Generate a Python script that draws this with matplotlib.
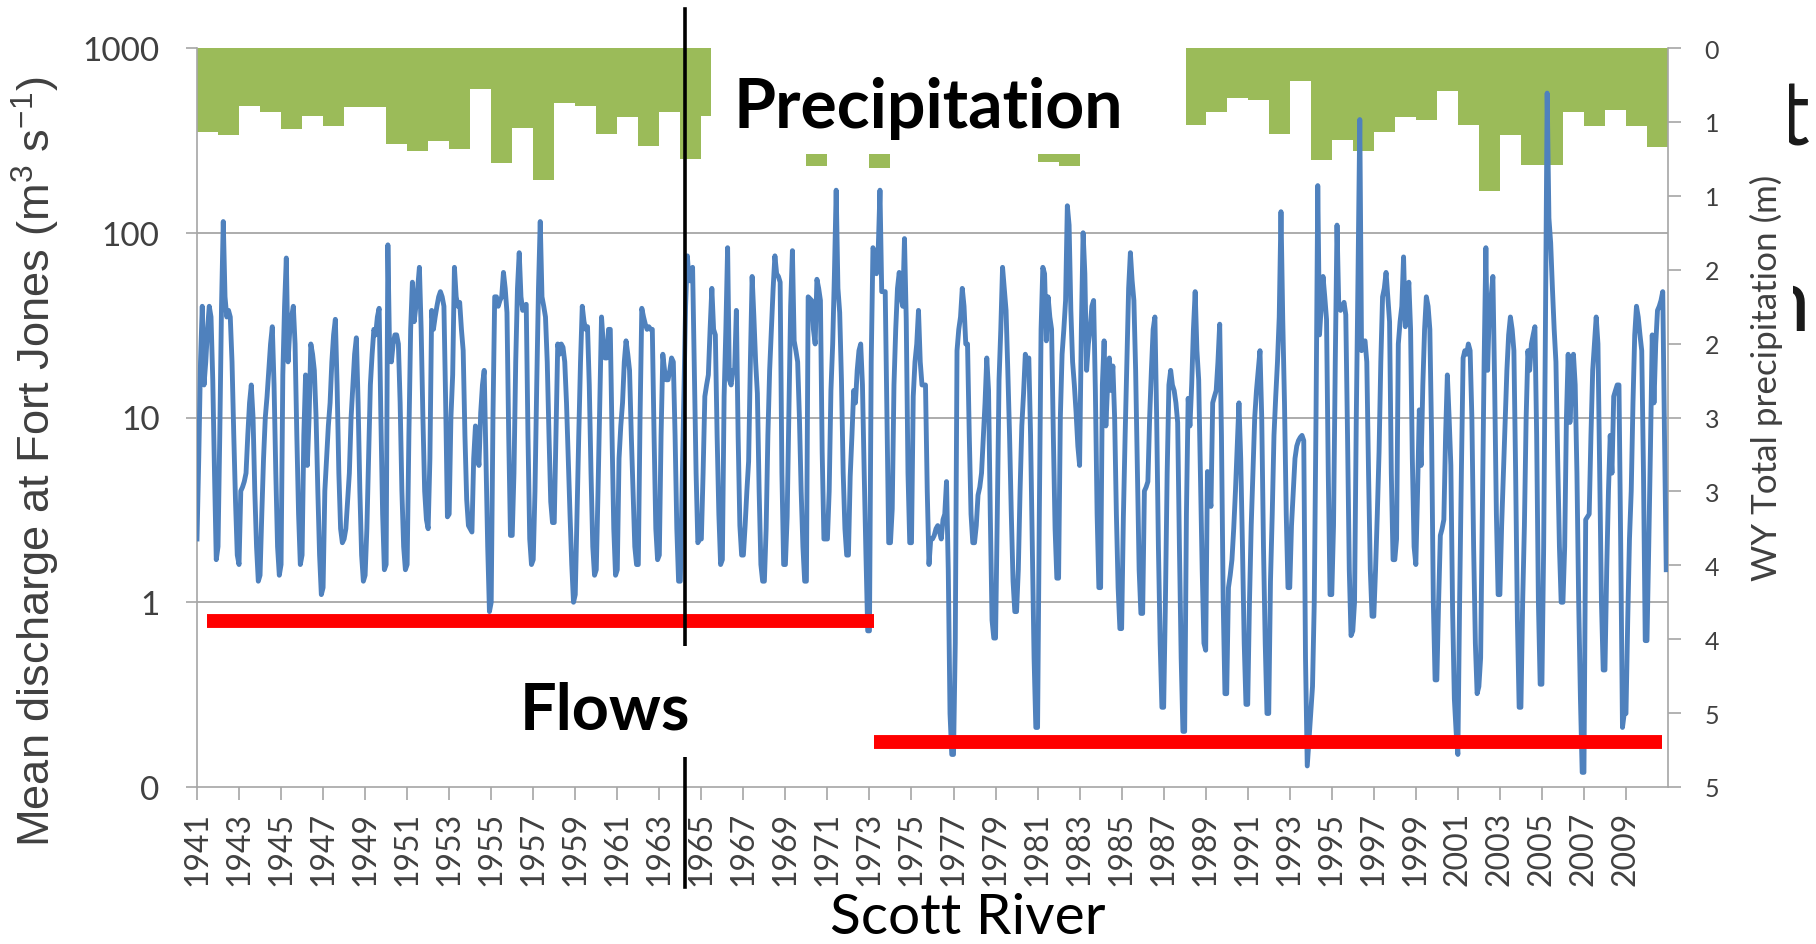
import numpy as np
import matplotlib
matplotlib.use("Agg")
import matplotlib.pyplot as plt
from matplotlib.patches import Rectangle
from matplotlib.transforms import Bbox
from matplotlib.ticker import FixedLocator, FixedFormatter, NullLocator

plt.rcParams['font.family'] = ['Lato', 'DejaVu Sans']
plt.rcParams['mathtext.fontset'] = 'custom'
plt.rcParams['mathtext.rm'] = 'Liberation Sans'
plt.rcParams['mathtext.it'] = 'Liberation Sans:italic'
plt.rcParams['mathtext.bf'] = 'Liberation Sans:bold'

# ---------------- data ----------------
years = list(range(1941, 2011))          # one block per year, 12 monthly values each (Oct..Sep)

flow_1941_1950 = [
    2.2, 6, 20, 40, 15, 20, 30, 40, 35, 16, 5, 1.7,
    2.0, 8, 40, 115, 45, 35, 38, 35, 20, 8, 3.5, 1.8,
    1.6, 4, 4.2, 4.5, 5, 8, 12, 15, 10, 4, 2, 1.3,
    1.4, 3, 6, 10, 13, 18, 25, 31, 15, 5, 2, 1.4,
    1.6, 17, 40, 73, 20, 30, 35, 40, 25, 8, 3, 1.6,
    1.8, 8, 17, 5.5, 10, 25, 22, 18, 10, 4, 1.8, 1.1,
    1.2, 4, 6, 9, 12, 20, 28, 34, 15, 5, 2.5, 2.1,
    2.2, 2.5, 3.5, 5, 10, 15, 22, 27, 12, 4, 1.8, 1.3,
    1.4, 2.5, 6, 15, 22, 30, 28, 35, 39, 10, 3, 1.5,
    1.6, 86, 22, 20, 25, 28, 28, 25, 12, 4, 2, 1.5,
]
flow_1951_1960 = [
    1.6, 8, 30, 54, 33, 40, 50, 65, 30, 10, 4, 2.8,
    2.5, 6, 38, 30, 35, 40, 45, 48, 45, 40, 12, 2.9,
    3.0, 10, 17, 65, 45, 40, 42, 30, 23, 8, 3.6, 2.6,
    2.5, 2.4, 6, 9, 7, 5.5, 10.6, 15, 18, 6, 2, 0.89,
    1.0, 10, 45, 45, 40, 43, 45, 61, 50, 37, 8, 2.3,
    2.3, 5, 20, 50, 78, 45, 38, 40, 41, 8, 2.2, 1.6,
    1.7, 4, 15, 50, 115, 45, 40, 35, 20, 8, 3.5, 2.7,
    2.7, 8, 25, 22, 25, 24, 20, 12, 6, 3, 1.6, 1.0,
    1.1, 3, 8, 20, 40, 33, 30, 31, 15, 5, 2, 1.4,
    1.5, 4, 12, 35, 25, 21, 21, 30, 30, 8, 2.5, 1.4,
]
flow_1961_1970 = [
    1.5, 6, 9, 12, 20, 26, 22, 18, 8, 4, 2, 1.6,
    1.6, 10, 39, 35, 32, 30, 31, 30, 30, 8, 2.5, 1.7,
    1.8, 8, 22, 18, 16, 16, 18, 21, 20, 8, 2.5, 1.3,
    1.3, 4, 12, 40, 75, 55, 55, 65, 18, 5, 2.1, 2.2,
    2.2, 5, 13, 15, 17, 30, 50, 30, 28, 8, 3, 1.6,
    1.7, 13, 30, 83, 16, 15, 18, 18, 38, 8, 2.6, 1.8,
    1.8, 2.6, 4, 5.8, 20, 58, 35, 20, 13.5, 4, 1.6, 1.3,
    1.3, 2.5, 8, 18, 30, 50, 75, 60, 58, 54, 5, 1.6,
    1.6, 2.9, 11, 40, 80, 26, 23, 20, 10, 4, 2, 1.3,
    1.3, 45, 44, 43, 30, 25, 56, 50, 43, 6.5, 2.2, 2.2,
]
flow_1971_1980 = [
    2.2, 4, 14, 25, 60, 170, 50, 37, 16, 5, 2.5, 1.8,
    1.8, 4.8, 8, 14, 12, 18, 23, 25, 15, 5, 1.8, 0.7,
    0.7, 20, 83, 78, 60, 80, 170, 48, 48, 48, 10, 2.1,
    2.1, 3.2, 15, 30, 50, 61, 45, 40, 93, 34, 5, 2.1,
    2.1, 13, 20, 25, 38, 20, 15, 15, 15, 4, 1.6, 2.2,
    2.2, 2.3, 2.5, 2.6, 2.4, 2.2, 2.8, 3.0, 4.5, 1.5, 0.25, 0.15,
    0.15, 0.6, 23, 30, 35, 50, 40, 25, 25, 8, 3, 2.1,
    2.1, 2.6, 3.8, 4.2, 5, 7.8, 12, 21, 14, 3, 0.8, 0.64,
    0.64, 3, 16, 30, 65, 50, 38, 18, 8, 3, 1.3, 0.89,
    0.89, 1.5, 4, 9, 13.5, 22, 20, 21, 8, 2, 0.5, 0.21,
]
flow_1981_1990 = [
    0.21, 3, 30, 65, 60, 26, 45, 35, 30, 8, 2.5, 1.35,
    1.35, 10, 22, 30, 43, 140, 110, 38, 20, 15, 10.6, 7,
    5.5, 30, 100, 60, 18, 25, 30, 40, 43, 14, 3, 1.2,
    1.2, 15, 26, 9, 15, 21, 14, 19, 10, 3, 1.2, 0.72,
    0.72, 2.9, 8, 20, 50, 78, 55, 43, 18, 5, 1.5, 0.87,
    0.87, 4, 4.2, 4.5, 10, 18, 30, 35, 10, 2, 0.6, 0.27,
    0.27, 1, 5, 15, 18, 15, 14, 12, 9.4, 2, 0.5, 0.2,
    0.2, 3, 12.7, 9, 15, 30, 48, 23, 16, 5, 1.5, 0.6,
    0.55, 5.1, 4, 3.3, 12, 13, 14, 20, 32, 8, 1, 0.32,
    0.32, 1.2, 1.4, 1.7, 2.5, 4, 7, 12, 6, 2, 0.6, 0.28,
]
flow_1991_2000 = [
    0.28, 1, 2.6, 5, 10, 14, 18, 23, 10, 2, 0.6, 0.25,
    0.25, 1.3, 3, 8, 13, 20, 35, 130, 34, 12, 3, 1.2,
    1.2, 2.6, 4, 6, 7, 7.5, 7.8, 8, 7.5, 0.5, 0.13, 0.18,
    0.25, 0.35, 1, 10, 180, 28, 40, 58, 45, 34, 5, 1.1,
    1.1, 2.6, 20, 110, 40, 38, 40, 42, 36, 8, 1.5, 0.66,
    0.7, 1, 10, 60, 410, 23, 25, 26, 20, 5, 1.5, 0.84,
    0.84, 1.5, 3, 6.5, 20, 45, 50, 61, 45, 33, 5, 1.7,
    1.7, 2.2, 25, 33, 40, 74, 31, 40, 54, 30, 6, 2.0,
    1.6, 4, 11, 5.5, 15, 30, 45, 40, 30, 8, 1, 0.38,
    0.38, 1, 2.3, 2.5, 2.8, 8, 17, 10, 5.5, 0.9, 0.3, 0.2,
]
flow_2001_2010 = [
    0.15, 1, 5, 21, 23, 22, 25, 23, 10, 2, 0.6, 0.32,
    0.35, 0.5, 3, 20, 83, 18, 40, 45, 58, 15, 3, 1.1,
    1.1, 2.6, 5, 10, 18, 28, 35, 30, 23, 5, 0.8, 0.27,
    0.27, 1, 2.6, 10, 23, 18, 25, 28, 31, 8, 1, 0.36,
    0.36, 2, 30, 570, 120, 88, 50, 30, 20, 6, 2, 1.0,
    1.0, 2, 10, 22, 9.4, 15, 22, 15, 5, 1, 0.3, 0.12,
    0.12, 2.8, 2.9, 3, 8, 18, 25, 35, 25, 5, 1, 0.43,
    0.43, 1.5, 4, 8, 5, 13, 14, 15, 15, 2, 0.21, 0.25,
    0.25, 0.8, 2.2, 4, 12, 28, 40, 35, 28, 23, 5, 0.62,
    0.62, 2, 7, 28, 12, 25, 38, 40, 43, 48, 8, 1.5,
]

precip_m = [
    0.57, 0.59, 0.39, 0.43, 0.55, 0.46, 0.53, 0.40, 0.40, 0.65,
    0.70, 0.63, 0.68, 0.28, 0.78, 0.54, 0.89, 0.37, 0.39, 0.58,
    0.47, 0.66, 0.43, 0.75, 0.46, 0.55, 0.60, 0.48, 0.62, 0.80,
    0.58, 0.50, 0.81, 0.66, 0.50, 0.30, 0.65, 0.50, 0.55, 0.45,
    0.77, 0.80, 0.62, 0.55, 0.60, 0.45, 0.38, 0.52, 0.43, 0.34,
    0.35, 0.585, 0.22, 0.76, 0.62, 0.70, 0.57, 0.47, 0.49, 0.29,
    0.52, 0.97, 0.59, 0.79, 0.79, 0.43, 0.53, 0.42, 0.53, 0.67,
]

left_tick_values = [0.1, 1, 10, 100, 1000]
left_tick_labels = ['0', '1', '10', '100', '1000']
right_tick_values = [0, 0.5, 1.0, 1.5, 2.0, 2.5, 3.0, 3.5, 4.0, 4.5, 5.0]
right_tick_labels = ['0', '1', '1', '2', '2', '3', '3', '4', '4', '5', '5']
x_tick_years = list(range(1941, 2010, 2))
grid_levels = [1, 10, 100]

early_period = [1941.46, 1973.22]
early_low_flow = 0.79
late_period = [1973.22, 2010.73]
late_low_flow = 0.175
change_year = 1964.23

# ---------------- figure ----------------
W, H = 1816, 945
fig = plt.figure(figsize=(W / 100, H / 100), dpi=100)
fig.patch.set_facecolor('white')

L, R, T, B = 197, 1668, 49, 788
ax = fig.add_axes([L / W, 1 - B / H, (R - L) / W, (B - T) / H])
ax2 = ax.twinx()
ax.set_zorder(ax2.get_zorder() + 1)
ax.patch.set_visible(False)

flow = np.array(flow_1941_1950 + flow_1951_1960 + flow_1961_1970 + flow_1971_1980
                + flow_1981_1990 + flow_1991_2000 + flow_2001_2010)
t = years[0] + np.arange(len(flow)) / 12.0

# precipitation bars (hanging from top, inverted right axis)
ax2.bar(np.array(years) + 0.5, precip_m, width=1.0, color='#9BBB59', linewidth=0, zorder=1)
ax2.set_ylim(5, 0)

ax.set_yscale('log')
ax.set_ylim(0.1, 1000)
ax.set_xlim(years[0], years[-1] + 1)

for g in grid_levels:
    ax.axhline(g, color='#a6a6a6', lw=1.3, zorder=1)

ax.plot(t, flow, color='#4F81BD', lw=3.5, zorder=3, solid_joinstyle='round')

# annotations
ax.plot(early_period, [early_low_flow] * 2, color='#FF0000', lw=10, solid_capstyle='butt',
        zorder=4, clip_on=False)
ax.plot(late_period, [late_low_flow] * 2, color='#FF0000', lw=10, solid_capstyle='butt',
        zorder=4, clip_on=False)
ax.plot([change_year] * 2, [(B - 10) / (B - T), (B - 888) / (B - T)],
        transform=ax.get_xaxis_transform(), color='black', lw=2.6, zorder=5, clip_on=False)

# white label boxes
ax.add_patch(Rectangle((1965.47, (B - 155) / (B - T)), 1988.07 - 1965.47, (155 - 46) / (B - T),
                       transform=ax.get_xaxis_transform(), facecolor='white', edgecolor='none',
                       zorder=6, clip_on=False))
ax.add_patch(Rectangle((1955.5, (B - 758) / (B - T)), 10.0, (758 - 647) / (B - T),
                       transform=ax.get_xaxis_transform(), facecolor='white', edgecolor='none',
                       zorder=6, clip_on=False))

# axes styling
gray = '#a6a6a6'
lab = '#404040'
for s in ['top', 'right']:
    ax.spines[s].set_visible(False)
for s in ['left', 'bottom']:
    ax.spines[s].set_color(gray)
    ax.spines[s].set_linewidth(1.2)
for s in ['top', 'left', 'bottom']:
    ax2.spines[s].set_visible(False)
ax2.spines['right'].set_color(gray)
ax2.spines['right'].set_linewidth(1.2)

ax.yaxis.set_major_locator(FixedLocator(left_tick_values))
ax.yaxis.set_major_formatter(FixedFormatter(left_tick_labels))
ax.yaxis.set_minor_locator(NullLocator())
ax.tick_params(axis='y', which='major', direction='out', length=8, width=1.2, color=gray,
               pad=19, labelsize=24, labelcolor=lab)
ax.set_xticks(x_tick_years)
ax.set_xticklabels([str(y) for y in x_tick_years])
ax.tick_params(axis='x', direction='out', length=9, width=1.2, color=gray, pad=8,
               labelsize=23, labelcolor=lab, labelrotation=90)

ax2.yaxis.set_major_locator(FixedLocator(right_tick_values))
ax2.yaxis.set_major_formatter(FixedFormatter(right_tick_labels))
ax2.tick_params(axis='y', direction='out', length=9.4, width=1.2, color=gray, pad=17,
                labelsize=18, labelcolor=lab)

# texts
def fx(px):
    return px / W

def fy(py):
    return 1 - py / H

txt_prec = fig.text(fx(928), fy(128), 'Precipitation', ha='center', va='baseline',
                    fontfamily='Lato', fontweight='bold', fontsize=50, color='black', zorder=10)
txt_flow = fig.text(fx(605), fy(729), 'Flows', ha='center', va='baseline',
                    fontfamily='Lato', fontweight='bold', fontsize=50, color='black', zorder=10)
txt_scott = fig.text(fx(968), fy(934), 'Scott River', ha='center', va='baseline',
                     fontfamily='Lato', fontsize=40, color='black', zorder=10)
txt_left = fig.text(fx(36), fy(462), 'Mean discharge at Fort Jones (m$^3$ s$^{-1}$)',
                    rotation=90, ha='center', va='center', fontfamily='Liberation Sans',
                    fontsize=30, color=lab, zorder=10)
txt_right = fig.text(fx(1766), fy(378), 'WY Total precipitation (m)', rotation=90,
                     ha='center', va='center', fontfamily='Lato', fontsize=24, color=lab, zorder=10)

r = fig.canvas.get_renderer()

def fit(txt, target):
    bb = txt.get_window_extent(renderer=r)
    length = max(bb.width, bb.height)
    txt.set_fontsize(txt.get_fontsize() * target / length)

fit(txt_prec, 391)
fit(txt_flow, 171)
fit(txt_scott, 275)
fit(txt_left, 770)
fit(txt_right, 406)

# cropped slide text at the right edge (only its right-hand sliver shows)
t_glyph = fig.text(fx(1777), fy(146), 't', ha='left', va='baseline', fontfamily='Lato',
                   fontsize=66, color='#1a1a1a', zorder=10)
t_glyph.set_clip_box(Bbox.from_extents(1789, 0, W, H))
n_glyph = fig.text(fx(1761), fy(331), 'n', ha='left', va='baseline', fontfamily='Lato',
                   fontsize=64, color='#1a1a1a', zorder=10)
n_glyph.set_clip_box(Bbox.from_extents(1793, 0, W, H))

fig.savefig('out.png', dpi=100, facecolor='white')
